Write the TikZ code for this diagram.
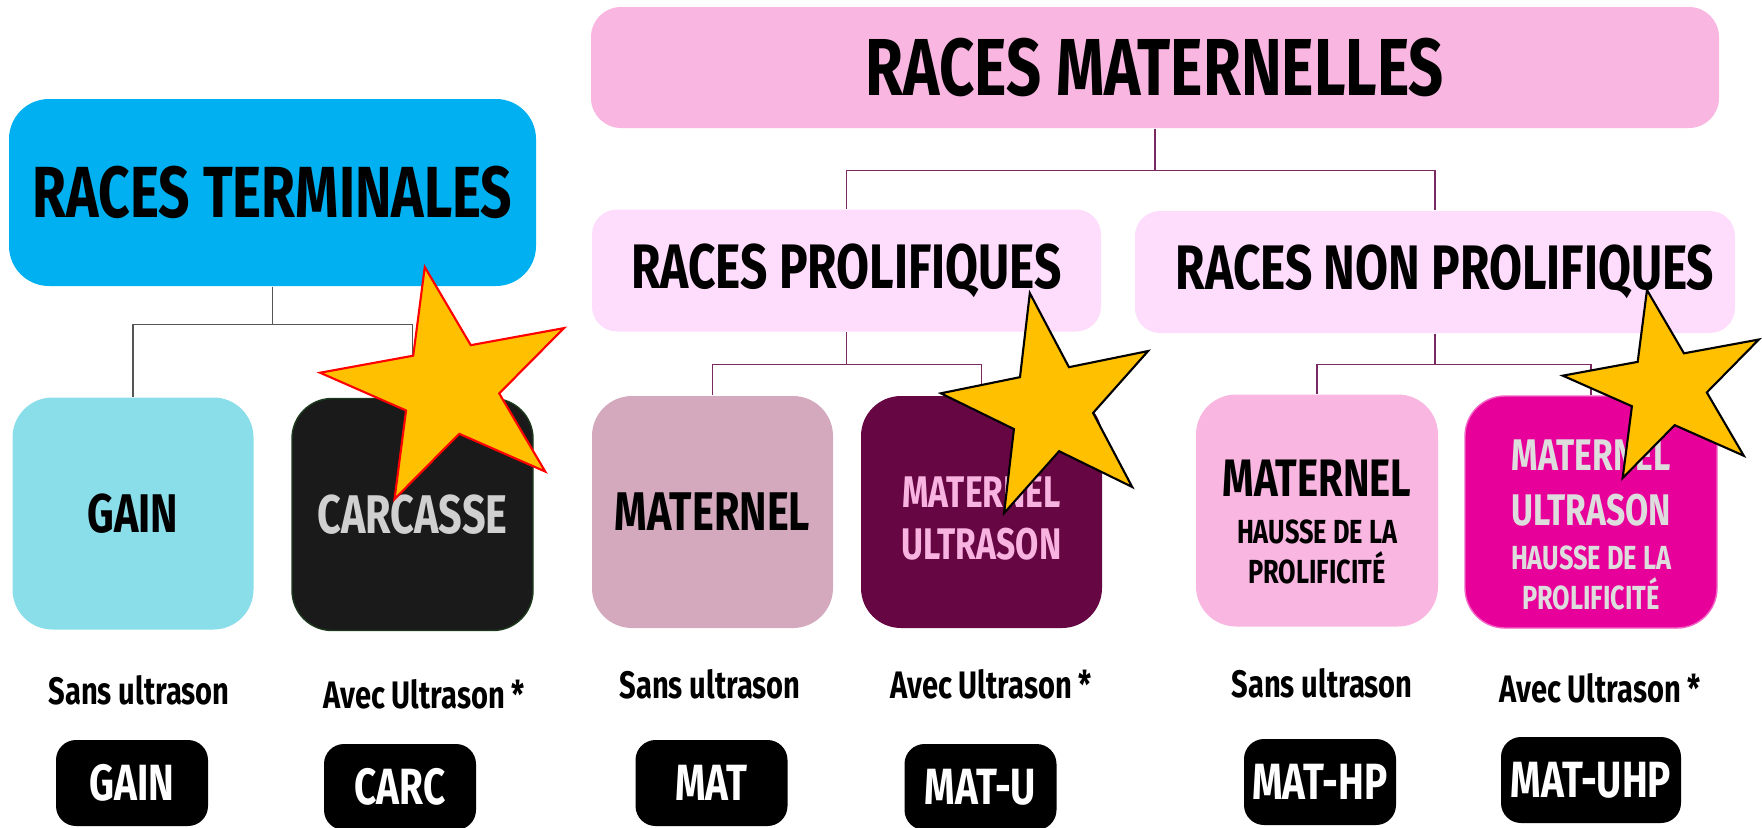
\documentclass[tikz,border=0pt]{standalone}
\usepackage{fontspec}
\newfontfamily\handfont{Fira Sans}[FakeStretch=0.76]
\newcommand{\handsize}[2]{\handfont\bfseries\fontsize{#1}{#2}\selectfont}
\definecolor{termblue}{HTML}{00B0F0}
\definecolor{gaincyan}{HTML}{89DEEA}
\definecolor{carcblack}{HTML}{1A1A1A}
\definecolor{carcedge}{HTML}{1E3A1E}
\definecolor{carctext}{HTML}{D0D0D0}
\definecolor{matpink}{HTML}{F8B6E0}
\definecolor{prolpink}{HTML}{FEDCFC}
\definecolor{matmauve}{HTML}{D5A9BD}
\definecolor{matuplum}{HTML}{660744}
\definecolor{matutext}{HTML}{F8B3E0}
\definecolor{uhpmagenta}{HTML}{E8009A}
\definecolor{uhpedge}{HTML}{F264C6}
\definecolor{uhptext}{HTML}{DDDDDD}
\definecolor{staryellow}{HTML}{FFC000}
\definecolor{termline}{HTML}{555555}
\definecolor{matline}{HTML}{7A2A60}
\tikzset{
    boxsty/.style={rectangle,rounded corners=4mm,inner sep=0pt,align=center},
    headsty/.style={boxsty,font=\handsize{20.6}{24}},
    subheadsty/.style={boxsty,rounded corners=2.5mm,fill=prolpink,minimum height=12.2mm,font=\handsize{17.9}{20}},
    cellsty/.style={boxsty,minimum width=24.1mm,minimum height=23.2mm,font=\handsize{15.5}{18}},
    labsty/.style={inner sep=0pt,font=\handsize{10.9}{14}},
    codesty/.style={rectangle,rounded corners=2mm,fill=black,text=white,inner sep=0pt,
                    minimum width=15.2mm,minimum height=8.6mm,font=\handsize{14.5}{18}},
    linksty/.style={line width=0.4pt},
    starsty/.style={fill=staryellow,line width=0.6pt,line join=miter},
}
\newcommand{\drawstar}[4]{%
  \draw[starsty,draw=#4,shift={#1},xscale=#2,yscale=#3]
    (-101:1) \foreach \k in {0,...,3} {-- ({-137-72*\k}:0.382) -- ({-173-72*\k}:1)}
    -- (-425:0.382) -- cycle;
}

\begin{document}
\begin{tikzpicture}[x=0.1mm,y=-0.1mm]
  \useasboundingbox (0,0) rectangle (1762,827);

  % heads
  \node[headsty,fill=matpink,rounded corners=3mm,minimum width=112.8mm,minimum height=12.1mm,
        font=\handsize{23}{26}] (mater) at (1155,67.5) {RACES MATERNELLES};
  \node[headsty,fill=termblue,minimum width=52.7mm,minimum height=18.7mm] (term) at (272.5,192.5) {RACES TERMINALES};
  \node[subheadsty,minimum width=50.9mm] (prol) at (846.5,270.5) {RACES PROLIFIQUES};
  \node[subheadsty,minimum width=60mm] (nonprol) at (1435,272) {\hspace*{2mm}RACES NON PROLIFIQUES};

  % cells
  \node[cellsty,fill=gaincyan] (gain) at (133,513.5) {GAIN};
  \node[cellsty,fill=carcblack,draw=carcedge,text=carctext] (carc) at (412.5,514.5) {CARCASSE};
  \node[cellsty,fill=matmauve] (mat) at (712.5,512) {MATERNEL};
  \node[cellsty,fill=matuplum,text=matutext,font=\handsize{12.6}{14.8}] (matu) at (981.5,512)
       {\rule{0pt}{12.5pt}MATERNEL\\ULTRASON};
  \node[cellsty,fill=matpink,minimum width=24.2mm,font=\handsize{15}{18}] (mathp) at (1317,510.5)
       {\rule{0pt}{17pt}MATERNEL\\[-4.5pt]{\handsize{9.5}{11}HAUSSE DE LA}\\[-6.6pt]{\handsize{9.5}{11}PROLIFICITÉ}};
  \node[cellsty,fill=uhpmagenta,draw=uhpedge,text=uhptext,minimum width=25.2mm,font=\handsize{12.6}{15.4}] (matuhp) at (1591,512)
       {\rule{0pt}{16.3pt}MATERNEL\\ULTRASON\\[-2.7pt]{\handsize{9.5}{11}HAUSSE DE LA}\\[-4pt]{\handsize{9.5}{11}PROLIFICITÉ}};

  % links
  \draw[linksty,termline] (term.south) -- ++(0,38) -| (gain.north);
  \draw[linksty,termline] (term.south) -- ++(0,38) -| (carc.north);
  \draw[linksty,matline] (mater.south) -- ++(0,42) -| (prol.north);
  \draw[linksty,matline] (mater.south) -- ++(0,42) -| (nonprol.north);
  \draw[linksty,matline] (prol.south) -- ++(0,32) -| (mat.north);
  \draw[linksty,matline] (prol.south) -- ++(0,32) -| (matu.north);
  \draw[linksty,matline] (nonprol.south) -- ++(0,31) -| (mathp.north);
  \draw[linksty,matline] (nonprol.south) -- ++(0,31) -| (matuhp.north);

  % stars
  \drawstar{(449.7,387.7)}{130.6}{122.9}{red}
  \drawstar{(1051,407.5)}{111}{116.5}{black}
  \drawstar{(1667,387.8)}{105}{99.6}{black}

  % labels
  \node[labsty] (gainlab) at (139,690) {Sans ultrason};
  \node[labsty] (carclab) at (424,694) {Avec Ultrason *};
  \node[labsty] (matlab) at (710,684) {Sans ultrason};
  \node[labsty] (matulab) at (991,684) {Avec Ultrason *};
  \node[labsty] (mathplab) at (1322,683) {Sans ultrason};
  \node[labsty] (matuhplab) at (1600,688) {Avec Ultrason *};

  % codes
  \node[codesty] (gaincode) at (132,783) {GAIN};
  \node[codesty] (carccode) at (400,787) {CARC};
  \node[codesty] (matcode) at (711.5,783) {MAT};
  \node[codesty] (matucode) at (980.5,787) {MAT-U};
  \node[codesty] (mathpcode) at (1320,782) {MAT-HP};
  \node[codesty,minimum width=18mm] (matuhpcode) at (1591,780) {MAT-UHP};
\end{tikzpicture}
\end{document}
